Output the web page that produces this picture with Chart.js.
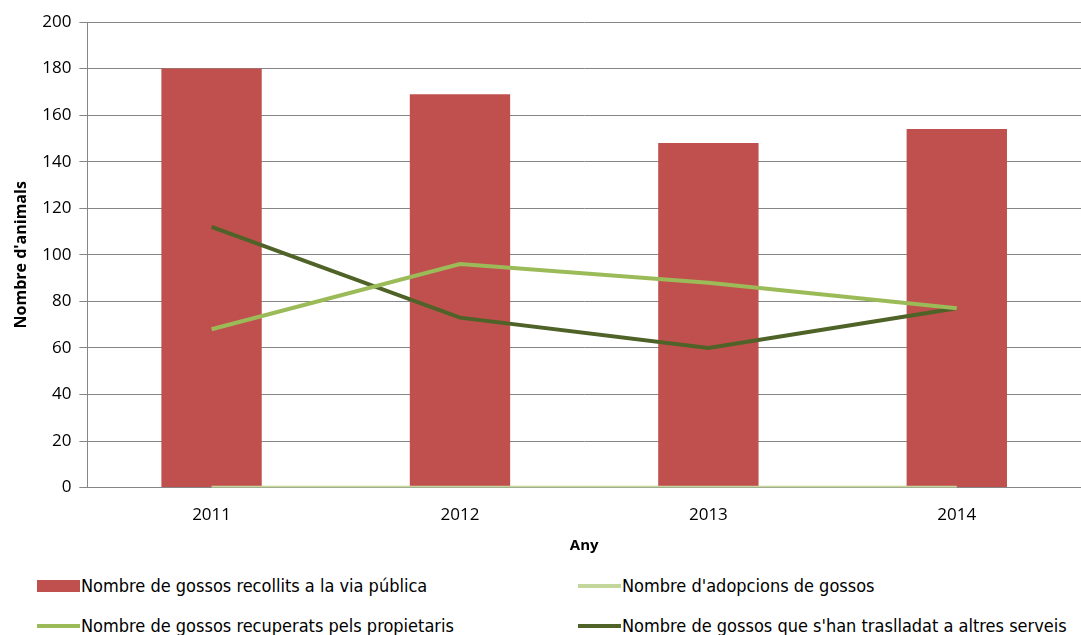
<!DOCTYPE html>
<html>
<head>
<meta charset="utf-8">
<script src="https://cdn.jsdelivr.net/npm/chart.js"></script>
<style>
  body { margin: 0; background: #fff; }
  #wrap { position: relative; width: 1081px; height: 635px; }
  #chartBox { position: absolute; left: 0; top: 0; width: 1081px; height: 559px; }
  #legend { position: absolute; left: 0; top: 574px; width: 1081px; font-family: "Liberation Sans Narrow", "DejaVu Sans Condensed", sans-serif; font-size: 18px; color: #000; }
  .item { position: absolute; display: flex; align-items: center; white-space: nowrap; }
  .sw { display: inline-block; width: 43px; margin-right: 1px; }
</style>
</head>
<body>
<div id="wrap">
  <div id="chartBox"><canvas id="elementChart"></canvas></div>
  <div id="legend"></div>
</div>
<script>
var years = ["2011", "2012", "2013", "2014"];
var recollits = [180, 169, 148, 154];
var adopcions = [0, 0, 0, 0];
var recuperats = [68, 96, 88, 77];
var traslladats = [112, 73, 60, 77];

var lineChart = null;

function createChart()
{
    if (lineChart){
        lineChart.destroy();
    }
    var data = {
        labels: years,
        datasets: [{
            type: 'bar',
            label: "Nombre de gossos recollits a la via pública",
            backgroundColor: "#C0504D",
            data: recollits,
            order: 2,
            categoryPercentage: 1,
            barPercentage: 0.404
        }, {
            type: 'line',
            label: "Nombre d'adopcions de gossos",
            borderColor: "#C3D69B",
            borderWidth: 3.5,
            pointRadius: 0,
            data: adopcions,
            order: 1
        }, {
            type: 'line',
            label: "Nombre de gossos recuperats pels propietaris",
            borderColor: "#9BBB59",
            borderWidth: 4,
            pointRadius: 0,
            data: recuperats,
            order: 1
        }, {
            type: 'line',
            label: "Nombre de gossos que s'han traslladat a altres serveis",
            borderColor: "#4F6228",
            borderWidth: 4,
            pointRadius: 0,
            data: traslladats,
            order: 1
        }]
    };
    lineChart = new Chart(document.getElementById('elementChart'), {
        type: 'bar',
        data: data,
        options: {
            responsive: true,
            maintainAspectRatio: false,
            animation: false,
            layout: { padding: { top: 22, right: 0, left: 8, bottom: 0 } },
            plugins: {
                legend: { display: false },
                tooltip: { enabled: false }
            },
            scales: {
                x: {
                    grid: { display: false, drawTicks: false },
                    border: { color: "#868686" },
                    ticks: { color: "#000", font: { family: "Open Sans", size: 17 }, padding: 17 },
                    title: { display: true, text: "Any", color: "#000", font: { family: "Open Sans", size: 15, weight: 'bold' }, padding: { top: -5, bottom: 4 } }
                },
                y: {
                    min: 0,
                    max: 200,
                    ticks: { stepSize: 20, color: "#000", font: { family: "Open Sans", size: 17 }, padding: 8 },
                    grid: { color: "#868686", tickLength: 8, lineWidth: 1 },
                    border: { color: "#868686" },
                    title: { display: true, text: "Nombre d'animals", color: "#000", font: { family: "Open Sans", size: 16, weight: 'bold' }, padding: { bottom: 3 } }
                }
            }
        }
    });
    buildLegend();
}

function buildLegend()
{
    var pos = [[37, 12], [578, 12], [37, 52], [578, 52]];
    var box = document.getElementById('legend');
    box.innerHTML = '';
    lineChart.data.datasets.forEach(function(ds, i){
        var item = document.createElement('div');
        item.className = 'item';
        item.style.left = pos[i][0] + 'px';
        item.style.top = (pos[i][1] - 11) + 'px';
        var sw = document.createElement('span');
        sw.className = 'sw';
        if (ds.type === 'bar'){
            sw.style.height = '12px';
            sw.style.background = ds.backgroundColor;
        } else {
            sw.style.height = '4px';
            sw.style.background = ds.borderColor;
        }
        item.appendChild(sw);
        item.appendChild(document.createTextNode(ds.label));
        box.appendChild(item);
    });
}

createChart();
</script>
</body>
</html>
